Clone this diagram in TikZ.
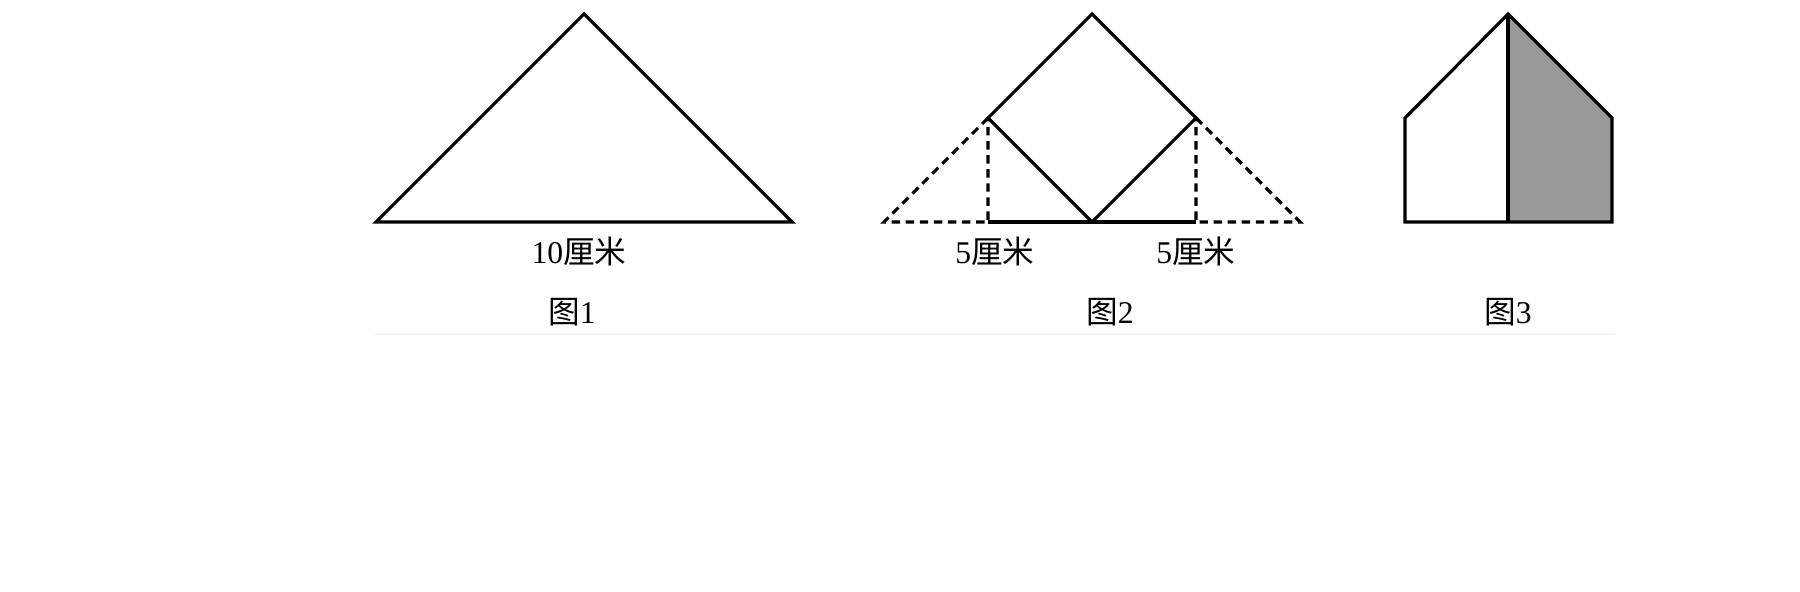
\documentclass[tikz,border=0pt]{standalone}
\usepackage{fontspec}
\setmainfont{Liberation Serif}
\newfontfamily\cjk{Noto Sans CJK SC}
\usepackage{tikz}
\definecolor{halfgray}{RGB}{153,153,153}
\definecolor{edgegray}{RGB}{244,244,244}
\newcommand{\drawthick}{\draw[line width=0.9pt, line join=miter]}
\newcommand{\drawdash}{\draw[line width=0.9pt, dash pattern=on 2.4pt off 1.6pt]}
\newcommand{\figlabel}[4]{\node[inner sep=0pt, font=\fontsize{9}{9}\selectfont] (#1) at (#3,#4) {#2};}

\begin{document}
\begin{tikzpicture}[x=0.01cm, y=-0.01cm]
\useasboundingbox (0,0) rectangle (1800,592);
% figure 1
\coordinate (a1) at (376,222); \coordinate (b1) at (792,222); \coordinate (c1) at (584,14);
\drawthick (a1)--(b1)--(c1)--cycle;
% figure 2
\coordinate (a2) at (884,222); \coordinate (b2) at (1300,222); \coordinate (c2) at (1092,14);
\coordinate (l2) at (988,118); \coordinate (r2) at (1196,118); \coordinate (m2) at (1092,222);
\coordinate (fl2) at (988,222); \coordinate (fr2) at (1196,222);
\drawdash (l2)--(a2)--(fl2)--(l2);
\drawdash (r2)--(b2)--(fr2)--(r2);
\drawthick (fl2)--(fr2);
\drawthick (c2)--(r2)--(m2)--(l2)--cycle;
% figure 3
\coordinate (p1) at (1405,222); \coordinate (p2) at (1405,118); \coordinate (p3) at (1508,14);
\coordinate (p4) at (1612,118); \coordinate (p5) at (1612,222); \coordinate (p6) at (1508,222);
\fill[halfgray] (p3)--(p4)--(p5)--(p6)--cycle;
\drawthick (p1)--(p2)--(p3)--(p4)--(p5)--cycle;
\drawthick (p3)--(p6);
% labels
\figlabel{len1}{10{\cjk 厘米}}{579}{251}
\figlabel{lenl}{5{\cjk 厘米}}{995}{251}
\figlabel{lenr}{5{\cjk 厘米}}{1196}{251}
\figlabel{cap1}{{\cjk 图}1}{572}{312}
\figlabel{cap2}{{\cjk 图}2}{1110}{312}
\figlabel{cap3}{{\cjk 图}3}{1508}{312}
\draw[edgegray, line width=0.5pt] (375,334)--(1615,334);
\end{tikzpicture}
\end{document}
